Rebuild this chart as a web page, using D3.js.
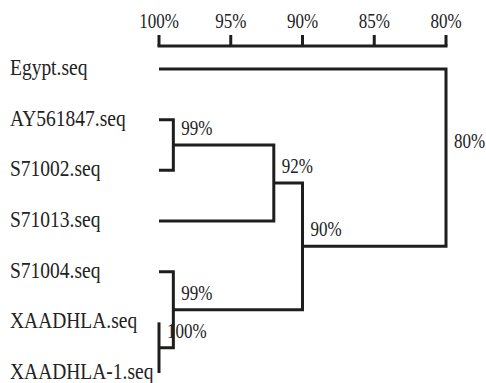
<!DOCTYPE html>
<html>
<head>
<meta charset="utf-8">
<script src="https://cdn.jsdelivr.net/npm/d3@7"></script>
<style>
  body { margin: 0; background: #fff; }
  svg { display: block; }
  text { font-family: "Liberation Serif", "Times New Roman", serif; fill: #222; }
</style>
</head>
<body>
<div id="chart"></div>
<script>
// leaves, top to bottom
var leaves = ["Egypt.seq", "AY561847.seq", "S71002.seq", "S71013.seq", "S71004.seq", "XAADHLA.seq", "XAADHLA-1.seq"];

// clusters in join order: id, the two members, similarity (%)
var clusterIds = ["c1", "c2", "c3", "c4", "c5", "c6"];
var clusterMembers = [
  ["AY561847.seq", "S71002.seq"],
  ["XAADHLA.seq", "XAADHLA-1.seq"],
  ["S71004.seq", "c2"],
  ["c1", "S71013.seq"],
  ["c4", "c3"],
  ["Egypt.seq", "c5"]
];
var clusterSimilarity = [99, 100, 99, 92, 90, 80];

var ticks = [100, 95, 90, 85, 80];

var width = 486, height = 383;

var svg = d3.select("#chart").append("svg")
    .attr("width", width)
    .attr("height", height);

// similarity scale, 100% on the left
var x = d3.scaleLinear()
    .domain([100, 80])
    .range([159, 446]);

// leaf rows
var y = d3.scalePoint()
    .domain(leaves)
    .range([69, 373]);

// positions of every node
var pos = {};
leaves.forEach(function (name) {
  pos[name] = { x: x(100), y: y(name) };
});
clusterIds.forEach(function (id, i) {
  var a = pos[clusterMembers[i][0]], b = pos[clusterMembers[i][1]];
  pos[id] = { x: x(clusterSimilarity[i]), y: (a.y + b.y) / 2 };
});

var ink = "#1e1e1e";

// axis along the top
var axis = svg.append("g").attr("class", "axis");
axis.append("line")
    .attr("x1", x(100)).attr("x2", x(80))
    .attr("y1", 46).attr("y2", 46)
    .attr("stroke", ink).attr("stroke-width", 3)
    .attr("stroke-linecap", "square");
axis.selectAll(".tick")
    .data(ticks)
    .enter().append("line")
    .attr("class", "tick")
    .attr("x1", function (d) { return x(d); })
    .attr("x2", function (d) { return x(d); })
    .attr("y1", 35).attr("y2", 46)
    .attr("stroke", ink).attr("stroke-width", 3);
axis.selectAll(".tick-label")
    .data(ticks)
    .enter().append("text")
    .attr("class", "tick-label")
    .attr("transform", function (d) { return "translate(" + x(d) + ",28) scale(1,1.25)"; })
    .attr("text-anchor", "middle")
    .attr("font-size", 17)
    .text(function (d) { return d + "%"; });

// elbows of the dendrogram
svg.selectAll(".link")
    .data(clusterIds)
    .enter().append("path")
    .attr("class", "link")
    .attr("fill", "none")
    .attr("stroke", ink)
    .attr("stroke-width", 3)
    .attr("d", function (id, i) {
      var a = pos[clusterMembers[i][0]], b = pos[clusterMembers[i][1]], n = pos[id];
      return "M" + a.x + "," + a.y + "H" + n.x + "V" + b.y + "H" + b.x;
    });

// leaf names
svg.selectAll(".leaf")
    .data(leaves)
    .enter().append("text")
    .attr("class", "leaf")
    .attr("transform", function (d) { return "translate(10," + (y(d) + 6) + ") scale(1,1.2)"; })
    .attr("font-size", 19.5)
    .text(function (d) { return d; });

// similarity at each join
svg.selectAll(".node-label")
    .data(clusterIds)
    .enter().append("text")
    .attr("class", "node-label")
    .attr("transform", function (id) {
      return "translate(" + (pos[id].x + 8) + "," + (pos[id].y - 10) + ") scale(1,1.25)";
    })
    .attr("font-size", 17)
    .text(function (id, i) { return clusterSimilarity[i] + "%"; });
</script>
</body>
</html>
